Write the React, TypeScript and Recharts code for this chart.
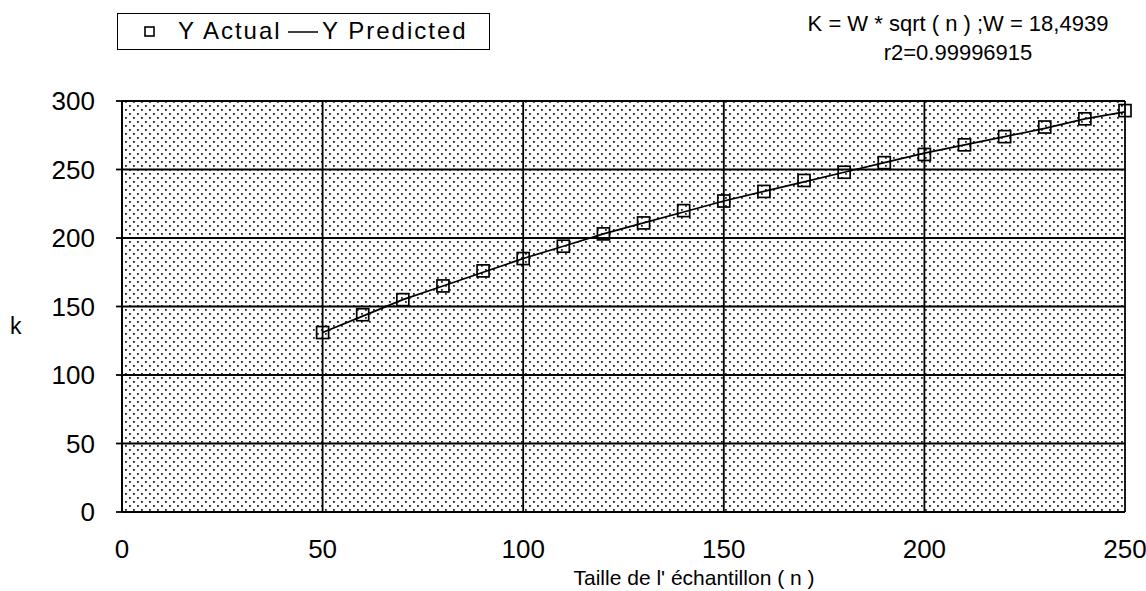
import { LineChart, Line, XAxis, YAxis, CartesianGrid } from 'recharts'

const sampleSizes = [50, 60, 70, 80, 90, 100, 110, 120, 130, 140, 150, 160, 170, 180, 190, 200, 210, 220, 230, 240, 250]
const kActual = [131, 144, 155, 165, 176, 185, 194, 203, 211, 220, 227, 234, 242, 248, 255, 261, 268, 274, 281, 287, 293]
const kPredicted = [131, 143, 155, 165, 175, 185, 194, 203, 211, 219, 227, 234, 241, 248, 255, 262, 268, 274, 280, 287, 292]
const xTicks = [0, 50, 100, 150, 200, 250]
const yTicks = [0, 50, 100, 150, 200, 250, 300]

const data = sampleSizes.map((n, i) => ({ n, actual: kActual[i], predicted: kPredicted[i] }))

const font = '"Liberation Sans", Arial, sans-serif'

const SquareDot = (props: any) => {
  const { cx, cy, index } = props
  if (cx == null || cy == null) return <g key={index} />
  return (
    <rect key={index} x={cx - 6} y={cy - 6} width={12} height={12} fill="none" stroke="#000" strokeWidth={1.7} />
  )
}

const App = () => {
  return (
    <div style={{ position: 'absolute', left: 0, top: 0, width: 1146, height: 591, background: '#fff', fontFamily: font, color: '#000' }}>
      <LineChart width={1146} height={591} data={data} margin={{ top: 101, right: 21, left: 0, bottom: 0 }}>
        <defs>
          <pattern id="stipple" width={8} height={8} patternUnits="userSpaceOnUse">
            <rect width={8} height={8} fill="#fff" />
            <rect x={1} y={1} width={1.8} height={1.8} fill="#222" />
            <rect x={5} y={5} width={1.8} height={1.8} fill="#222" />
          </pattern>
        </defs>
        <CartesianGrid stroke="#000" strokeWidth={1.8} fill="url(#stipple)" fillOpacity={1} />
        <XAxis
          dataKey="n"
          type="number"
          domain={[0, 250]}
          ticks={xTicks}
          height={79}
          axisLine={{ stroke: '#000', strokeWidth: 2 }}
          tickLine={false}
          tickMargin={22}
          tick={{ fill: '#000', fontSize: 26, fontFamily: font }}
          interval={0}
        />
        <YAxis
          type="number"
          domain={[0, 300]}
          ticks={yTicks}
          width={122}
          axisLine={{ stroke: '#000', strokeWidth: 2 }}
          tickLine={{ stroke: '#000', strokeWidth: 1.8 }}
          tickSize={6}
          tickMargin={21}
          tick={{ fill: '#000', fontSize: 26, fontFamily: font }}
          interval={0}
        />
        <Line dataKey="predicted" stroke="#000" strokeWidth={1.7} dot={false} isAnimationActive={false} />
        <Line dataKey="actual" stroke="none" dot={SquareDot} activeDot={false} isAnimationActive={false} />
      </LineChart>

      {/* legend box */}
      <div style={{ position: 'absolute', left: 117, top: 13, width: 373, height: 37, border: '1.8px solid #000', boxSizing: 'border-box' }}>
        <svg style={{ position: 'absolute', left: 26, top: 12 }} width={11} height={11}>
          <rect x={1} y={1} width={9} height={9} fill="none" stroke="#000" strokeWidth={1.6} />
        </svg>
        <span style={{ position: 'absolute', left: 60, top: 3, fontSize: 24, lineHeight: '28px', letterSpacing: 2, whiteSpace: 'nowrap' }}>Y Actual</span>
        <svg style={{ position: 'absolute', left: 170, top: 16 }} width={30} height={4}>
          <line x1={0} y1={2} x2={30} y2={2} stroke="#000" strokeWidth={1.5} />
        </svg>
        <span style={{ position: 'absolute', left: 204, top: 3, fontSize: 24, lineHeight: '28px', letterSpacing: 2, whiteSpace: 'nowrap' }}>Y Predicted</span>
      </div>

      {/* fit annotation */}
      <div style={{ position: 'absolute', left: 758, top: 9, width: 400, textAlign: 'center', fontSize: 22, lineHeight: '29px', whiteSpace: 'nowrap' }}>
        <div>K = W * sqrt ( n ) ;W = 18,4939</div>
        <div>r2=0.99996915</div>
      </div>

      {/* axis titles */}
      <div style={{ position: 'absolute', left: 10, top: 313, fontSize: 23, lineHeight: '26px' }}>k</div>
      <div style={{ position: 'absolute', left: 494, top: 566, width: 400, textAlign: 'center', fontSize: 21, lineHeight: '24px', whiteSpace: 'nowrap' }}>
        Taille de l' échantillon ( n )
      </div>
    </div>
  )
}

export default App
